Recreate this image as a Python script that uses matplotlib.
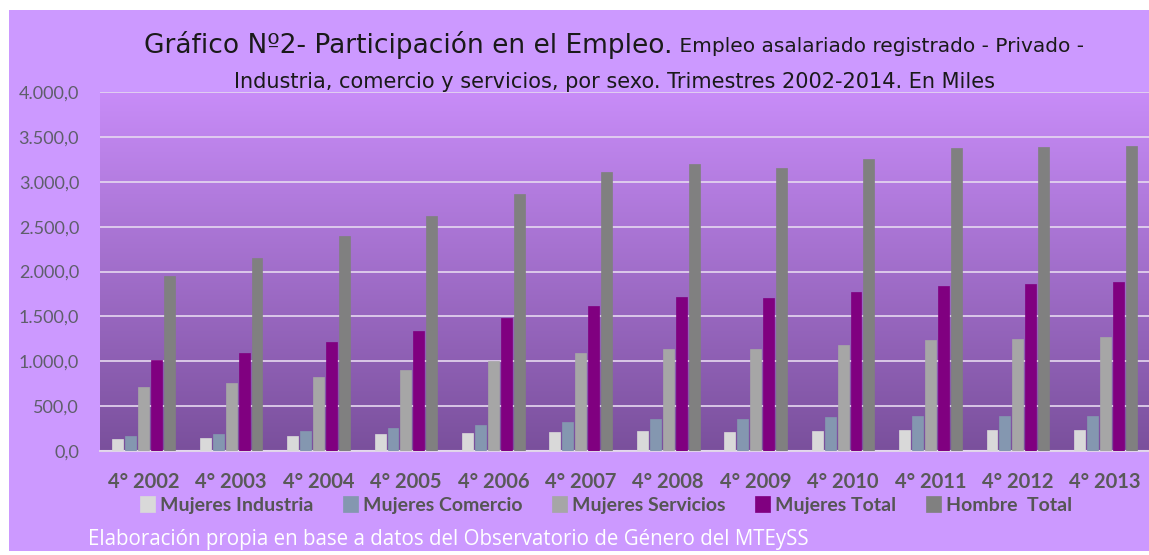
import numpy as np
import matplotlib
matplotlib.use('Agg')
import matplotlib.pyplot as plt
from matplotlib.ticker import FuncFormatter

# datos (miles), 4to trimestre de cada año
years = ['4° 2002', '4° 2003', '4° 2004', '4° 2005', '4° 2006', '4° 2007',
         '4° 2008', '4° 2009', '4° 2010', '4° 2011', '4° 2012', '4° 2013']
mujeres_industria = [134, 148, 167, 186, 200, 212, 223, 215, 223, 230, 230, 230]
mujeres_comercio = [172, 193, 226, 253, 290, 327, 353, 353, 375, 386, 390, 390]
mujeres_servicios = [710, 754, 828, 899, 1005, 1088, 1136, 1136, 1181, 1233, 1244, 1267]
mujeres_total = [1014, 1092, 1214, 1337, 1482, 1619, 1712, 1705, 1772, 1842, 1864, 1886]
hombre_total = [1950, 2145, 2396, 2618, 2864, 3105, 3198, 3150, 3258, 3372, 3385, 3395]

series = [
    ('Mujeres Industria', mujeres_industria, '#D9D9D9'),
    ('Mujeres Comercio', mujeres_comercio, '#8497B0'),
    ('Mujeres Servicios', mujeres_servicios, '#A6A6A6'),
    ('Mujeres Total', mujeres_total, '#800080'),
    ('Hombre  Total', hombre_total, '#808080'),
]

W, H = 1149, 555
fig = plt.figure(figsize=(W / 100, H / 100), dpi=100)
fig.patch.set_facecolor('white')

# fondo lila del gráfico (con borde blanco arriba/izquierda)
bg = fig.add_axes([9 / W, 4 / H, 1 - 9 / W, 1 - 14 / H])
bg.set_facecolor('#CC99FF')
bg.set_xticks([])
bg.set_yticks([])
for s in bg.spines.values():
    s.set_visible(False)
bg.set_zorder(0)

ax = fig.add_axes([100 / W, 1 - 451 / H, 1 - 100 / W, (451 - 92) / H])
ax.set_zorder(1)
ax.patch.set_visible(False)

# degradado del área de trazado
top = np.array([200, 140, 248]) / 255
bot = np.array([122, 80, 156]) / 255
t = np.linspace(0, 1, 256)[:, None]
grad = (top * (1 - t) + bot * t)[:, None, :]
ax.imshow(grad, extent=[0, 1, 0, 1], transform=ax.transAxes,
          aspect='auto', zorder=0, interpolation='bilinear')

x = np.arange(len(years))
step = 0.148
width = 0.125
for i, (name, vals, col) in enumerate(series):
    ax.bar(x + (i - 2) * step, vals, width, color=col, label=name, zorder=3,
           edgecolor=col, linewidth=0.5)

ax.set_xlim(-0.5, len(years) - 0.5)
ax.set_ylim(0, 4000)
ax.set_yticks(np.arange(0, 4001, 500))
ax.yaxis.set_major_formatter(FuncFormatter(
    lambda v, p: f'{v:,.1f}'.replace(',', 'X').replace('.', ',').replace('X', '.')))
ax.grid(axis='y', color='#E6D9F0', linewidth=1.2, zorder=1)
ax.set_axisbelow(False)
for s in ['top', 'right', 'left']:
    ax.spines[s].set_visible(False)
ax.spines['bottom'].set_color('#E0D4EA')
ax.spines['bottom'].set_linewidth(1.5)
ax.tick_params(axis='both', length=0)
ax.tick_params(axis='y', pad=15, labelsize=13, labelcolor='#5E5E6A')
ax.tick_params(axis='x', pad=15)
ax.set_xticks(x)
ax.set_xticklabels(years, fontsize=14.5, fontweight='bold', color='#595959',
                   family=['Lato', 'DejaVu Sans'])
for lab in ax.get_yticklabels():
    lab.set_family(['Lato', 'DejaVu Sans'])

# título en dos tamaños
fam_t = ['DejaVu Sans']
t1 = fig.text(0, 1 - 45 / H, 'Gráfico Nº2- Participación en el Empleo.',
              fontsize=19, family=fam_t, va='center', ha='left', color='#1A1A1A')
t2 = fig.text(0, 1 - 47 / H, ' Empleo asalariado registrado - Privado -',
              fontsize=14.5, family=fam_t, va='center', ha='left', color='#1A1A1A')
fig.text(614 / W, 1 - 82 / H,
         'Industria, comercio y servicios, por sexo. Trimestres 2002-2014. En Miles',
         fontsize=15, family=fam_t, va='center', ha='center', color='#1A1A1A')
fig.canvas.draw()
r = fig.canvas.get_renderer()
w1 = t1.get_window_extent(r).width
w2 = t2.get_window_extent(r).width
x0 = 614 - (w1 + w2) / 2
t1.set_x(x0 / W)
t2.set_x((x0 + w1) / W)

fig.legend(loc='center', bbox_to_anchor=(606 / W, 1 - 505 / H), ncol=5,
           frameon=False, handlelength=0.75, handleheight=0.9, handletextpad=0.25,
           columnspacing=1.55, prop={'family': ['Lato', 'DejaVu Sans'],
                                     'weight': 'bold', 'size': 14},
           labelcolor='#555555')

fig.text(88 / W, 1 - 540 / H,
         'Elaboración propia en base a datos del Observatorio de Género del MTEySS',
         fontsize=14.8, color='white', va='center', ha='left',
         family=['Open Sans', 'DejaVu Sans'])

fig.savefig('out.png', dpi=100)
